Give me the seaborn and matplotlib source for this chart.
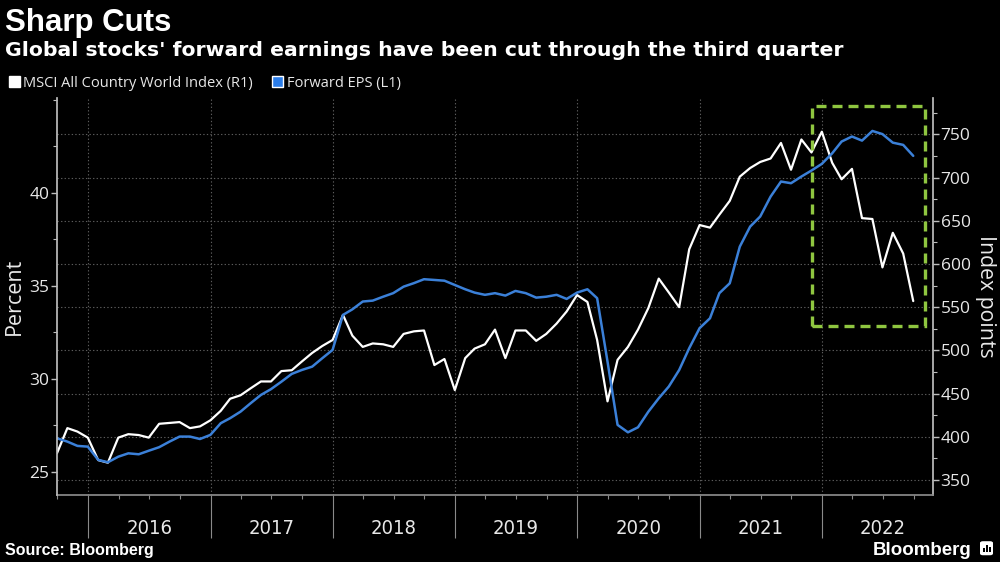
import matplotlib
matplotlib.use("Agg")
import matplotlib.pyplot as plt
import matplotlib.dates as mdates
import matplotlib.ticker as mticker
from matplotlib.patches import Patch, Rectangle, FancyBboxPatch
import pandas as pd
import seaborn as sns

# ── data (month-end, Sep 2015 .. Sep 2022) ───────────────────────────────────
dates = pd.date_range("2015-09-30", periods=85, freq="ME")

msci_acwi = [
    381, 410, 406, 399, 373, 370, 399, 403, 402, 399, 415, 416,
    417, 410, 412, 419, 430, 444, 448, 456, 464, 464, 476, 477,
    487, 497, 505, 512, 541, 517, 504, 508, 507, 504, 519, 522,
    523, 483, 490, 454, 491, 502, 507, 524, 491, 523, 523, 511,
    519, 531, 545, 564, 556, 512, 441, 489, 504, 524, 549, 583,
    567, 550, 617, 645, 642, 657, 673, 701, 711, 718, 722, 740,
    709, 744, 729, 753, 717, 698, 710, 653, 652, 596, 636, 612,
    557,
]

forward_eps = [
    26.81, 26.63, 26.40, 26.36, 25.65, 25.52, 25.82, 26.00, 25.95, 26.14, 26.33, 26.63,
    26.90, 26.90, 26.77, 26.99, 27.62, 27.89, 28.24, 28.69, 29.14, 29.45, 29.85, 30.27,
    30.48, 30.66, 31.11, 31.56, 33.44, 33.74, 34.16, 34.21, 34.42, 34.61, 34.96, 35.15,
    35.36, 35.32, 35.28, 35.05, 34.82, 34.64, 34.52, 34.61, 34.48, 34.73, 34.61, 34.37,
    34.42, 34.52, 34.30, 34.64, 34.82, 34.34, 30.93, 27.53, 27.13, 27.40, 28.24, 28.96,
    29.59, 30.48, 31.65, 32.73, 33.26, 34.61, 35.14, 37.11, 38.19, 38.73, 39.80, 40.61,
    40.52, 40.88, 41.20, 41.56, 42.13, 42.76, 43.03, 42.81, 43.33, 43.16, 42.70, 42.58,
    41.99,
]

years = [2016, 2017, 2018, 2019, 2020, 2021, 2022]

# highlighted window (dashed box), in date / index-point units
box_start, box_end = "2021-12-01", "2022-11-04"
box_low, box_high = 528, 783

WHITE = "#ffffff"
BLUE = "#3b80d8"
GREEN = "#8fc640"
GRID = "#5c5c5c"
SPINE = "#bdbdbd"
TXT = "#e8e8e8"

sns.set_theme(style="dark", rc={"axes.facecolor": "black", "figure.facecolor": "black",
                                "savefig.facecolor": "black"})
plt.rcParams["font.family"] = ["Open Sans", "DejaVu Sans"]

fig = plt.figure(figsize=(10, 5.62), dpi=100)
ax = fig.add_axes([0.057, 0.1192, 0.876, 0.7064])   # index points (right)
ax2 = ax.twinx()                                     # forward EPS (left)
ax2.set_position(ax.get_position())

sns.lineplot(x=dates, y=msci_acwi, ax=ax, color=WHITE, linewidth=1.6)
sns.lineplot(x=dates, y=forward_eps, ax=ax2, color=BLUE, linewidth=1.8)

# ── axes layout ──────────────────────────────────────────────────────────────
ax.set_xlim(pd.Timestamp("2015-09-30"), pd.Timestamp("2022-11-28"))
ax.set_ylim(332.6, 792)
ax2.set_ylim(23.76, 45.1)

ax.yaxis.tick_right()
ax.yaxis.set_label_position("right")
ax2.yaxis.tick_left()
ax2.yaxis.set_label_position("left")

ax.yaxis.set_major_locator(mticker.MultipleLocator(50))
ax.yaxis.set_minor_locator(mticker.MultipleLocator(25))
ax2.yaxis.set_major_locator(mticker.FixedLocator([25, 30, 35, 40]))
ax2.yaxis.set_minor_locator(mticker.FixedLocator([27.5, 32.5, 37.5, 42.5, 45]))

ax.xaxis.set_major_locator(mdates.YearLocator())
ax.xaxis.set_minor_locator(mdates.MonthLocator(bymonth=[1, 4, 7, 10]))
ax.xaxis.set_major_formatter(mticker.NullFormatter())

ax.grid(True, which="major", axis="both", color=GRID, linestyle=(0, (1.2, 2)), linewidth=0.8)
ax2.grid(False)

for a in (ax, ax2):
    for s in a.spines.values():
        s.set_visible(False)
ax.spines["right"].set_visible(True)
ax.spines["right"].set_color(SPINE)
ax.spines["bottom"].set_visible(True)
ax.spines["bottom"].set_color("#8a8a8a")
ax2.spines["left"].set_visible(True)
ax2.spines["left"].set_color(SPINE)

ax.tick_params(axis="y", which="both", right=True, left=False)
ax2.tick_params(axis="y", which="both", left=True, right=False)
ax.tick_params(axis="x", which="both", bottom=True, top=False)

ax.tick_params(axis="y", which="major", length=4, width=1, color=SPINE,
               labelcolor=TXT, labelsize=12.5, pad=1.5)
ax.tick_params(axis="y", which="minor", length=3, width=0.8, color=SPINE)
ax2.tick_params(axis="y", which="major", length=4, width=1, color=SPINE,
                labelcolor=TXT, labelsize=12.5, pad=1.5)
ax2.tick_params(axis="y", which="minor", length=3, width=0.8, color=SPINE)
ax.tick_params(axis="x", which="major", length=31, width=0.8, color="#8a8a8a")
ax.tick_params(axis="x", which="minor", length=3, width=0.8, color="#8a8a8a")
ax.tick_params(axis="x", labelbottom=False)

ax.set_xlabel("")
ax2.set_xlabel("")
ax.set_ylabel("Index points", rotation=270, va="center", color=TXT, fontsize=15.3)
ax.yaxis.set_label_coords(1.0594, 0.5)
ax2.set_ylabel("Percent", va="center", color=TXT, fontsize=15.5)
ax2.yaxis.set_label_coords(-0.0485, 0.5)

# year labels centred in each calendar year
for yr in years:
    ax.text(pd.Timestamp(f"{yr}-07-02"), -0.085, str(yr), transform=ax.get_xaxis_transform(),
            ha="center", va="center", color=TXT, fontsize=14.5,
            family=["DejaVu Sans"], fontstretch="condensed")

# dashed highlight box
x0 = mdates.date2num(pd.Timestamp(box_start))
x1 = mdates.date2num(pd.Timestamp(box_end))
ax.add_patch(Rectangle((x0, box_low), x1 - x0, box_high - box_low, fill=False,
                       edgecolor=GREEN, linewidth=2.4, linestyle=(0, (3, 1.8)),
                       zorder=5, clip_on=False))

# ── titles, legend, footer ───────────────────────────────────────────────────
fig.text(0.005, 0.9448, "Sharp Cuts", color="white", fontsize=22.5, fontweight="bold",
         family=["Liberation Sans", "DejaVu Sans"], va="baseline")
fig.text(0.005, 0.901, "Global stocks' forward earnings have been cut through the third quarter",
         color="white", fontsize=14.7, fontweight="bold",
         family=["DejaVu Sans"], va="baseline")

handles = [Patch(facecolor=WHITE, label="MSCI All Country World Index (R1)"),
           Patch(facecolor="#2b7de9", label="Forward EPS (L1)")]
leg = fig.legend(handles=handles, loc="center left", bbox_to_anchor=(0.003, 0.852),
                 ncol=2, frameon=False, handlelength=0.75, handleheight=0.75,
                 handletextpad=0.25, columnspacing=1.3, fontsize=10.5, borderaxespad=0)
for t in leg.get_texts():
    t.set_color(TXT)

fig.text(0.005, 0.0125, "Source: Bloomberg", color="white", fontsize=11.5, fontweight="bold",
         family=["Liberation Sans", "DejaVu Sans"], va="baseline")
fig.text(0.873, 0.0125, "Bloomberg", color="white", fontsize=13.5, fontweight="bold",
         family=["Liberation Sans", "DejaVu Sans"], va="baseline")
fig.add_artist(FancyBboxPatch((0.980, 0.012), 0.013, 0.025, transform=fig.transFigure,
                              boxstyle="round,pad=0,rounding_size=0.003",
                              facecolor="white", edgecolor="none"))
for bx, bh in [(0.9828, 0.008), (0.9858, 0.014), (0.9888, 0.010)]:
    fig.add_artist(Rectangle((bx, 0.017), 0.0018, bh, transform=fig.transFigure,
                             facecolor="black", edgecolor="none"))

fig.savefig("out.png", dpi=100, facecolor="black")
